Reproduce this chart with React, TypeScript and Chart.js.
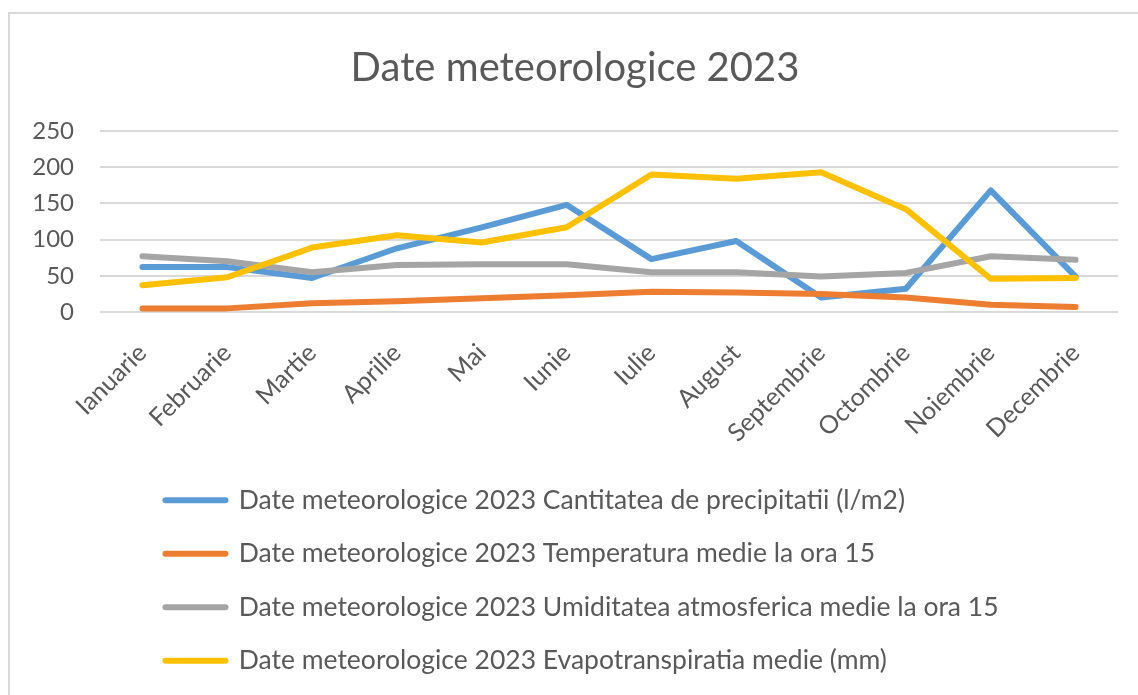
import React, { useEffect, useRef } from 'react';
import { Chart, registerables } from 'chart.js';

Chart.register(...registerables);

const months = [
  'Ianuarie', 'Februarie', 'Martie', 'Aprilie', 'Mai', 'Iunie',
  'Iulie', 'August', 'Septembrie', 'Octombrie', 'Noiembrie', 'Decembrie',
];
const precipitatii = [62, 62, 47, 88, 117, 148, 73, 98, 20, 32, 168, 49];
const temperatura = [5, 5, 12, 15, 19, 23, 28, 27, 25, 20, 10, 7];
const umiditate = [77, 70, 55, 65, 66, 66, 55, 55, 49, 54, 77, 72];
const evapotranspiratie = [37, 48, 89, 106, 96, 117, 190, 184, 193, 142, 46, 47];
const yTicks = [0, 50, 100, 150, 200, 250];

const chartTitle = 'Date meteorologice 2023';
const seriesNames = [
  'Date meteorologice 2023 Cantitatea de precipitatii (l/m2)',
  'Date meteorologice 2023 Temperatura medie la ora 15',
  'Date meteorologice 2023 Umiditatea atmosferica medie la ora 15',
  'Date meteorologice 2023 Evapotranspiratia medie (mm)',
];
const seriesColors = ['#5B9BD5', '#ED7D31', '#A5A5A5', '#FFC000'];

const FONT = 'Lato';
const TEXT = '#595959';

// Make every legend row start at the same x (rows left-aligned in a centred block)
const alignLegendRows = {
  id: 'alignLegendRows',
  afterUpdate(chart: any) {
    const lg = chart.legend;
    if (lg && Array.isArray(lg.lineWidths) && lg.lineWidths.length) {
      const m = Math.max(...lg.lineWidths) - 14;
      lg.lineWidths = lg.lineWidths.map(() => m);
    }
  },
};

export default function App() {
  const ref = useRef<HTMLCanvasElement>(null);

  useEffect(() => {
    const series = [precipitatii, temperatura, umiditate, evapotranspiratie];
    const chart = new Chart(ref.current as HTMLCanvasElement, {
      type: 'line',
      data: {
        labels: months,
        datasets: series.map((d, i) => ({
          label: seriesNames[i],
          data: d,
          borderColor: seriesColors[i],
          backgroundColor: seriesColors[i],
          borderWidth: 6,
          borderCapStyle: 'round',
          borderJoinStyle: 'round',
          tension: 0,
          pointRadius: 0,
          pointHoverRadius: 0,
          fill: false,
          order: series.length - i,
        })),
      },
      options: {
        responsive: false,
        animation: false,
        layout: { padding: { left: 22, right: 20, top: 0, bottom: 11 } },
        plugins: {
          tooltip: { enabled: false },
          title: {
            display: true,
            text: chartTitle,
            color: TEXT,
            font: { family: FONT, size: 40, weight: 'normal' },
            padding: { top: 30, bottom: 39 },
          },
          legend: {
            position: 'bottom',
            labels: {
              color: TEXT,
              font: { family: FONT, size: 26.5 },
              usePointStyle: true,
              pointStyle: 'line',
              pointStyleWidth: 60,
              padding: 27,
              sort: (a: any, b: any) => a.datasetIndex - b.datasetIndex,
              generateLabels: (c: any) =>
                (Chart.defaults.plugins.legend.labels.generateLabels as any)(c).map((l: any) => ({
                  ...l,
                  lineWidth: 6,
                  lineCap: 'round',
                  strokeStyle: seriesColors[l.datasetIndex],
                  fillStyle: seriesColors[l.datasetIndex],
                  pointStyle: 'line',
                })),
            },
          },
        },
        scales: {
          x: {
            offset: true,
            grid: { display: false },
            border: { display: false },
            ticks: {
              color: TEXT,
              font: { family: FONT, size: 25 },
              minRotation: 45,
              maxRotation: 45,
              autoSkip: false,
              padding: 18,
            },
            afterFit: (s: any) => {
              s.height = 148;
              s.paddingLeft = 0;
              s.paddingRight = 0;
            },
          },
          y: {
            min: yTicks[0],
            max: yTicks[yTicks.length - 1],
            grid: { color: '#d9d9d9', lineWidth: 2, drawTicks: false },
            border: { display: false },
            ticks: {
              stepSize: yTicks[1] - yTicks[0],
              color: TEXT,
              font: { family: FONT, size: 24 },
              padding: 26,
            },
            afterFit: (s: any) => {
              s.width = 68;
            },
          },
        },
      },
      plugins: [alignLegendRows],
    } as any);
    return () => chart.destroy();
  }, []);

  return (
    <div
      style={{
        position: 'absolute',
        left: 0,
        top: 0,
        width: 1138,
        height: 695,
        overflow: 'hidden',
        background: '#fff',
      }}
    >
      <div
        style={{
          position: 'absolute',
          left: 8,
          top: 12,
          right: 0,
          bottom: 0,
          borderLeft: '2px solid #d9d9d9',
          borderTop: '2px solid #d9d9d9',
        }}
      >
        <canvas ref={ref} width={1128} height={681} style={{ display: 'block' }} />
      </div>
    </div>
  );
}
